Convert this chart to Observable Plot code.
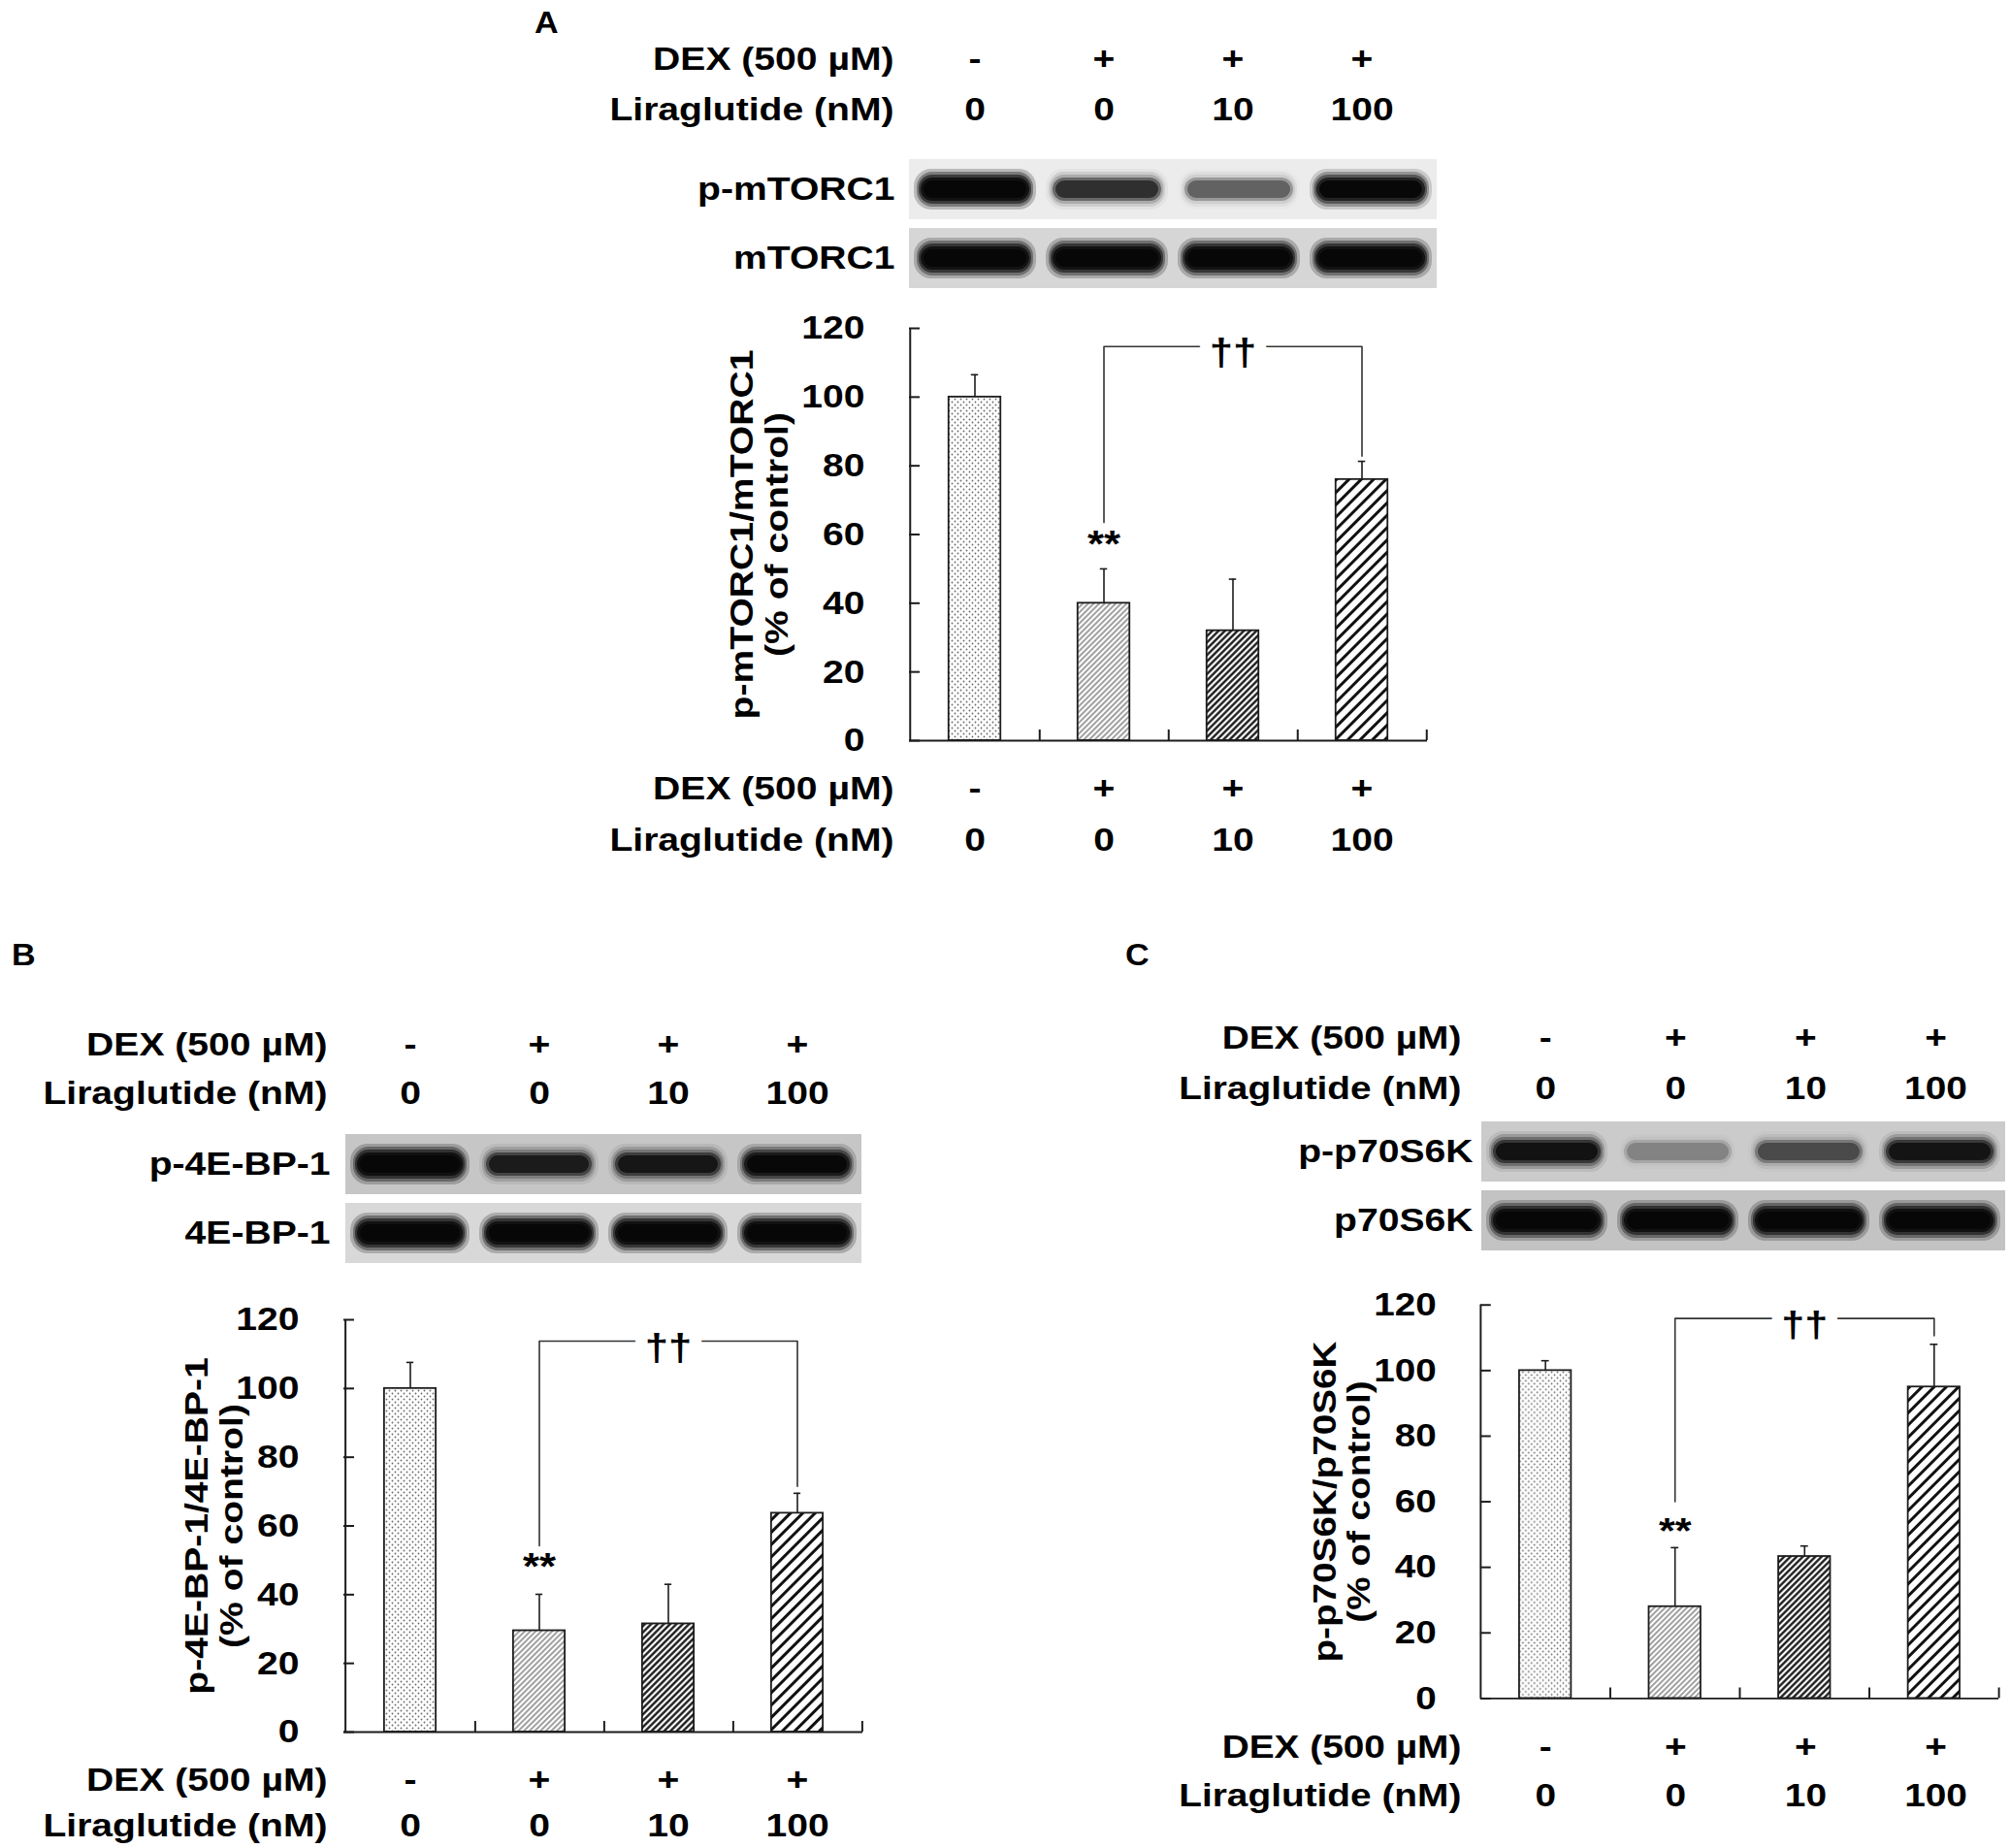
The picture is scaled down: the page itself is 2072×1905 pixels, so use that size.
<!DOCTYPE html>
<html><head><meta charset="utf-8">
<script src="https://cdn.jsdelivr.net/npm/d3@7"></script>
<script src="https://cdn.jsdelivr.net/npm/@observablehq/plot@0.6"></script>
<style>
html,body{margin:0;padding:0;background:#fff;}
#fig{position:relative;width:2072px;height:1905px;overflow:hidden;background:#fff;font-family:"Liberation Sans",Arial,sans-serif;font-weight:bold;color:#000;}
.piece{position:absolute;}
.letter{position:absolute;font-size:31px;font-weight:bold;line-height:31px;transform:scaleX(1.1);transform-origin:left center;}
</style></head><body><div id="fig"></div>
<script>
// ---------- shared categories / tick labels ----------
const lanes = ["Control", "DEX", "DEX+Lira10", "DEX+Lira100"];
const dexSigns = ["-", "+", "+", "+"];
const liraDoses = ["0", "0", "10", "100"];
const treatmentRows = ["DEX (500 µM)", "Liraglutide (nM)"];
const yTicks = [0, 20, 40, 60, 80, 100, 120];

// ---------- panel A ----------
const aBlotRows = ["p-mTORC1", "mTORC1"];
const aPhosphoBand = [1.0, 0.55, 0.36, 0.88];
const aTotalBand = [1, 1, 1, 1];
const aMean = [100, 40, 32, 76];
const aSem = [6.5, 10, 15, 5.3];
const aYLabel = "p-mTORC1/mTORC1\n(% of control)";
const aStarLevel = 57;
const aBracket = [63.5, 114.7, 82.8];

// ---------- panel B ----------
const bBlotRows = ["p-4E-BP-1", "4E-BP-1"];
const bPhosphoBand = [1.0, 0.64, 0.68, 0.9];
const bTotalBand = [1, 1, 1, 1];
const bMean = [100, 29.5, 31.5, 63.7];
const bSem = [7.6, 10.6, 11.5, 5.8];
const bYLabel = "p-4E-BP-1/4E-BP-1\n(% of control)";
const bStarLevel = 48;
const bBracket = [54.2, 113.8, 71.5];

// ---------- panel C ----------
const cBlotRows = ["p-p70S6K", "p70S6K"];
const cPhosphoBand = [0.72, 0.2, 0.4, 0.7];
const cTotalBand = [1, 1, 1, 1];
const cMean = [100, 28, 43.3, 95];
const cSem = [3, 18, 3.2, 13];
const cYLabel = "p-p70S6K/p70S6K\n(% of control)";
const cStarLevel = 51;
const cBracket = [60, 115.9, 110.6];

const starMark = "**";
const daggerMark = "††";

// ---------- layout (positions & styles only) ----------
const FONT = "'Liberation Sans', Arial, sans-serif";
const FS = 34;
const STRETCH = 1.15;
const BAR_W = 54;
// soft band rendering: nested layers from outer glow to dense core
const bandLayers = [
  {tb: 10, lr: 5, rx: 18, op: v => v * v * v * 0.22},
  {tb: 13, lr: 8, rx: 16, op: v => v * v * 0.35},
  {tb: 16, lr: 10, rx: 14, op: v => v * v * 0.55},
  {tb: 19, lr: 12, rx: 12, op: v => v * 0.75},
  {tb: 22, lr: 15, rx: 9, op: v => Math.min(1, v * 1.05)}
];
const layouts = {
  A: {letter: [551, 8],
      head: {x0: 937, x1: 1471, y0: 34, y1: 139, pad: 16},
      blot: {x0: 937, x1: 1481, y0: 163, y1: 298, pad: 15, bg: ["#ececec", "#d6d6d6"]},
      chart: {x0: 937, x1: 1471, y0: 338, y1: 763, tickPad: 46, labelDx: -155},
      foot: {x0: 937, x1: 1471, y0: 785, y1: 892, pad: 16}},
  B: {letter: [12, 969],
      head: {x0: 354, x1: 889, y0: 1052, y1: 1152, pad: 17},
      blot: {x0: 354, x1: 889, y0: 1168, y1: 1303, pad: 14, bg: ["#c6c6c6", "#d8d8d8"]},
      chart: {x0: 354, x1: 889, y0: 1360, y1: 1785, tickPad: 46, labelDx: -134},
      foot: {x0: 354, x1: 889, y0: 1811, y1: 1905, pad: 17}},
  C: {letter: [1160, 969],
      head: {x0: 1528, x1: 2068, y0: 1044, y1: 1148, pad: 20},
      blot: {x0: 1526, x1: 2068, y0: 1155, y1: 1290, pad: 8, bg: ["#cbcbcb", "#c3c3c3"]},
      chart: {x0: 1528, x1: 2068, y0: 1345, y1: 1755, tickPad: 46, labelDx: -145},
      foot: {x0: 1528, x1: 2068, y0: 1776, y1: 1876, pad: 20}}
};

const fig = document.getElementById("fig");

function stretchText(svg, s) {
  d3.select(svg).selectAll("text").each(function () {
    const t = this.getAttribute("transform");
    if (t) this.setAttribute("transform", t + ` scale(${s},1)`);
    else {
      const x = parseFloat(this.getAttribute("x")) || 0;
      this.setAttribute("x", 0);
      this.setAttribute("transform", `translate(${x},0) scale(${s},1)`);
    }
  });
}

function place(svg, left, top) {
  const d = document.createElement("div");
  d.className = "piece";
  d.style.left = left + "px";
  d.style.top = top + "px";
  svg.style.overflow = "visible";
  d.appendChild(svg);
  fig.appendChild(d);
}

function baseStyle() {
  return {fontFamily: FONT, fontWeight: "bold", fontSize: FS + "px", background: "transparent", color: "#000"};
}

function treatmentPlot(L) {
  const mL = 340, mR = 10, mT = 10, mB = 10;
  const fw = L.x1 - L.x0, fh = L.y1 - L.y0;
  const cells = [];
  lanes.forEach((lane, i) => {
    cells.push({lane, row: treatmentRows[0], t: dexSigns[i]});
    cells.push({lane, row: treatmentRows[1], t: liraDoses[i]});
  });
  const svg = Plot.plot({
    width: mL + fw + mR, height: mT + fh + mB,
    marginLeft: mL, marginRight: mR, marginTop: mT, marginBottom: mB,
    style: baseStyle(),
    x: {type: "band", domain: lanes, padding: 0, axis: null},
    y: {type: "band", domain: treatmentRows, padding: 0},
    marks: [
      Plot.axisY({tickSize: 0, tickPadding: L.pad, fontSize: FS, label: null}),
      Plot.text(cells, {x: "lane", y: "row", text: "t", fontSize: FS, fontWeight: "bold"})
    ]
  });
  stretchText(svg, STRETCH);
  place(svg, L.x0 - mL, L.y0 - mT);
}

function blotPlot(key, L, rows, phospho, total) {
  const mL = 340, mR = 4, mT = 4, mB = 4;
  const fw = L.x1 - L.x0, fh = L.y1 - L.y0;
  const bands = [];
  lanes.forEach((lane, i) => {
    bands.push({lane, row: rows[0], v: phospho[i]});
    bands.push({lane, row: rows[1], v: total[i]});
  });
  const svg = Plot.plot({
    width: mL + fw + mR, height: mT + fh + mB,
    marginLeft: mL, marginRight: mR, marginTop: mT, marginBottom: mB,
    style: baseStyle(),
    x: {type: "band", domain: lanes, padding: 0, axis: null},
    y: {type: "band", domain: rows, paddingInner: 0.12, paddingOuter: 0},
    opacity: {domain: [0, 1], range: [0, 1]},
    marks: [
      Plot.cell(bands, {x: "lane", y: "row", filter: d => d.row === rows[0], fill: L.bg[0]}),
      Plot.cell(bands, {x: "lane", y: "row", filter: d => d.row === rows[1], fill: L.bg[1]}),
      ...bandLayers.map(s => Plot.cell(bands, {x: "lane", y: "row", fill: "#070707", fillOpacity: d => s.op(d.v),
        insetLeft: s.lr, insetRight: s.lr, insetTop: s.tb, insetBottom: s.tb, rx: s.rx})),
      Plot.axisY({tickSize: 0, tickPadding: L.pad, fontSize: FS, label: null})
    ]
  });
  stretchText(svg, STRETCH);
  place(svg, L.x0 - mL, L.y0 - mT);
}

const patternDefs = (k) => `
  <pattern id="${k}-p1" width="6" height="6" patternUnits="userSpaceOnUse">
    <rect width="6" height="6" fill="#fff"/>
    <circle cx="1.5" cy="1.5" r="0.9" fill="#6a6a6a"/>
    <circle cx="4.5" cy="4.5" r="0.9" fill="#6a6a6a"/>
  </pattern>
  <pattern id="${k}-p2" width="4" height="4" patternUnits="userSpaceOnUse" patternTransform="rotate(45)">
    <rect width="4" height="4" fill="#fff"/>
    <line x1="2" y1="0" x2="2" y2="4" stroke="#6e6e6e" stroke-width="1.3"/>
  </pattern>
  <pattern id="${k}-p3" width="4.6" height="4.6" patternUnits="userSpaceOnUse" patternTransform="rotate(45)">
    <rect width="4.6" height="4.6" fill="#fff"/>
    <line x1="2.3" y1="0" x2="2.3" y2="4.6" stroke="#111" stroke-width="2.3"/>
  </pattern>
  <pattern id="${k}-p4" width="9" height="9" patternUnits="userSpaceOnUse" patternTransform="rotate(45)">
    <rect width="9" height="9" fill="#fff"/>
    <line x1="4.5" y1="0" x2="4.5" y2="9" stroke="#111" stroke-width="3"/>
  </pattern>`;

function chartPlot(key, L, mean, sem, yLabel, starLevel, bracket) {
  const mL = 200, mR = 12, mT = 24, mB = 24;
  const fw = L.x1 - L.x0, fh = L.y1 - L.y0, bw = fw / lanes.length;
  const rows = lanes.map((lane, i) => ({lane, mean: mean[i], top: mean[i] + sem[i]}));
  const bracketPts = [
    {lane: lanes[1], v: bracket[0]}, {lane: lanes[1], v: bracket[1]},
    {lane: lanes[3], v: bracket[1]}, {lane: lanes[3], v: bracket[2]}
  ];
  const ink = "#1c1c1c";
  const svg = Plot.plot({
    width: mL + fw + mR, height: mT + fh + mB,
    marginLeft: mL, marginRight: mR, marginTop: mT, marginBottom: mB,
    style: baseStyle(),
    x: {type: "band", domain: lanes, padding: 0, axis: null},
    y: {domain: [0, 120]},
    color: {type: "ordinal", domain: lanes, range: ["p1", "p2", "p3", "p4"].map(p => `url(#${key}-${p})`)},
    marks: [
      Plot.barY(rows, {x: "lane", y: "mean", fill: "lane", stroke: ink, strokeWidth: 1.8,
        insetLeft: (bw - BAR_W) / 2, insetRight: (bw - BAR_W) / 2}),
      Plot.ruleX(rows, {x: "lane", y1: "mean", y2: "top", stroke: ink, strokeWidth: 1.6}),
      Plot.tickY(rows, {x: "lane", y: "top", stroke: ink, strokeWidth: 1.6, insetLeft: bw / 2 - 4, insetRight: bw / 2 - 4}),
      Plot.ruleY([0], {stroke: ink, strokeWidth: 2}),
      Plot.ruleX([lanes[0]], {dx: -bw / 2, stroke: ink, strokeWidth: 2}),
      Plot.ruleY(yTicks, {insetRight: fw - 11, stroke: ink, strokeWidth: 2}),
      Plot.ruleX(lanes, {dx: bw / 2, insetTop: fh - 11, stroke: ink, strokeWidth: 2}),
      Plot.axisY({ticks: yTicks, tickSize: 0, tickPadding: L.tickPad, fontSize: FS, label: null}),
      Plot.line(bracketPts, {x: "lane", y: "v", stroke: "#333", strokeWidth: 1.6}),
      Plot.text([{lane: lanes[1], v: starLevel}], {x: "lane", y: "v", text: () => starMark, fontSize: 38, fontWeight: "bold"}),
      Plot.text([{lane: lanes[2], v: bracket[1]}], {x: "lane", y: "v", text: () => daggerMark, fontSize: 38, fontWeight: "bold",
        dy: 7, fill: "#000", stroke: "#fff", strokeWidth: 22, strokeLinejoin: "round", paintOrder: "stroke"}),
      Plot.text([yLabel], {frameAnchor: "left", textAnchor: "middle", rotate: -90, dx: L.labelDx, text: d => d,
        fontSize: FS, fontWeight: "bold", lineHeight: 1.06})
    ]
  });
  d3.select(svg).insert("defs", ":first-child").html(patternDefs(key));
  stretchText(svg, STRETCH);
  place(svg, L.x0 - mL, L.y0 - mT);
}

function letter(txt, pos) {
  const d = document.createElement("div");
  d.className = "letter";
  d.textContent = txt;
  d.style.left = pos[0] + "px";
  d.style.top = pos[1] + "px";
  fig.appendChild(d);
}

function panel(key, blotRows, phospho, total, mean, sem, yLabel, starLevel, bracket) {
  const L = layouts[key];
  letter(key, L.letter);
  treatmentPlot(L.head);
  blotPlot(key, L.blot, blotRows, phospho, total);
  chartPlot(key, L.chart, mean, sem, yLabel, starLevel, bracket);
  treatmentPlot(L.foot);
}

panel("A", aBlotRows, aPhosphoBand, aTotalBand, aMean, aSem, aYLabel, aStarLevel, aBracket);
panel("B", bBlotRows, bPhosphoBand, bTotalBand, bMean, bSem, bYLabel, bStarLevel, bBracket);
panel("C", cBlotRows, cPhosphoBand, cTotalBand, cMean, cSem, cYLabel, cStarLevel, cBracket);
</script></body></html>
